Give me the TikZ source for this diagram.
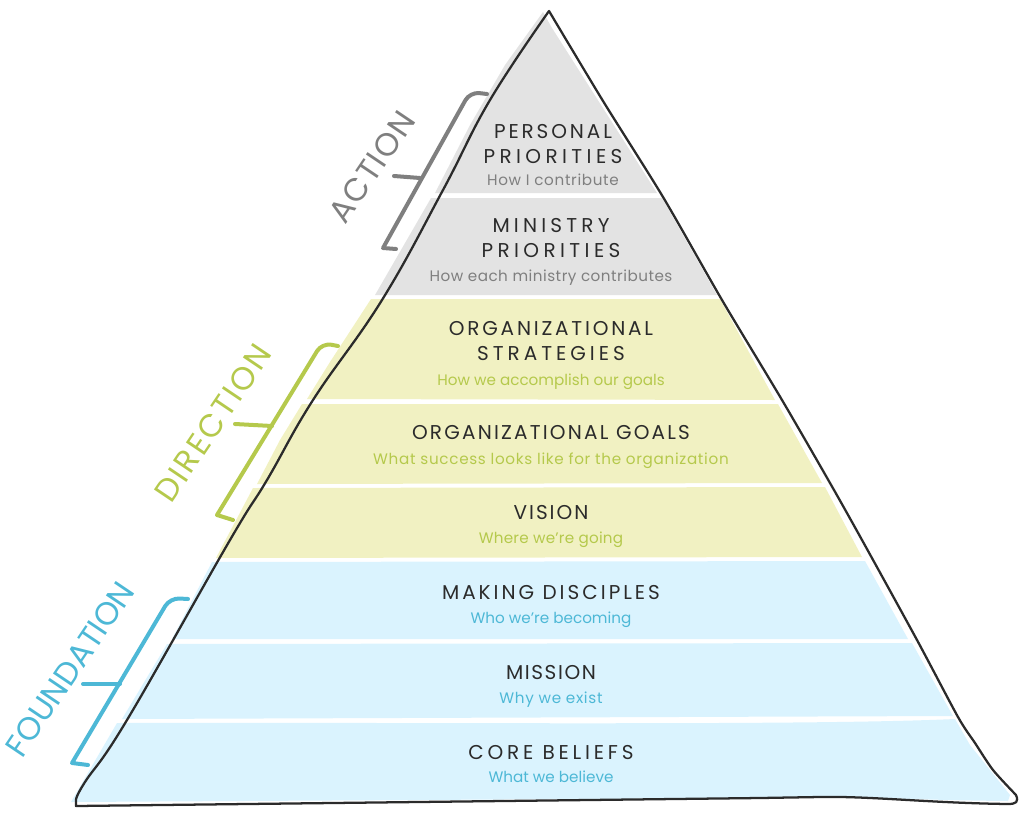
\documentclass[tikz,border=0pt]{standalone}
\usepackage{fontspec}
\setmainfont{Poppins}
\definecolor{grayfill}{HTML}{E3E3E3}
\definecolor{yellowfill}{HTML}{F1F1C2}
\definecolor{bluefill}{HTML}{DAF3FE}
\definecolor{graytext}{HTML}{7F7F7F}
\definecolor{yellowtext}{HTML}{B5C94C}
\definecolor{bluetext}{HTML}{4DB8D6}
\definecolor{inkdark}{HTML}{2B2B2B}
\newcommand{\spc}[2]{{\addfontfeatures{LetterSpace=#1}#2}}
\tikzset{
  ttl/.style={text=inkdark,align=center,inner sep=0pt,font=\fontsize{15}{18.75}\selectfont},
  sub/.style={inner sep=0pt,text height=7pt,text depth=2.5pt,font=\fontsize{11.4}{13}\selectfont},
  side/.style={inner sep=0pt,rotate=56,font=\fontsize{24}{26}\selectfont},
  brk/.style={line width=3pt,line cap=round,line join=round},
  tick/.style={line width=3pt,line cap=round},
  outline/.style={draw=inkdark,line width=1.7pt,line join=round}
}
\begin{document}
\begin{tikzpicture}[x=0.75pt,y=-0.75pt]
\useasboundingbox (0,0) rectangle (1024,814);
% bands
\fill[grayfill] (543,12) -- (552,28) -- (657,193) -- (435,193) -- (470,125) -- (505,65) -- cycle;
\fill[grayfill] (431,198) -- (662,198) -- (717,295) -- (375,295) -- cycle;
\fill[yellowfill] (371,299) -- (720,299) -- (775,400) -- (307,399) -- (330,362) -- cycle;
\fill[yellowfill] (302,404) -- (778,404) -- (822,483) -- (257,484) -- (280,440) -- cycle;
\fill[yellowfill] (253,488) -- (825,487) -- (862,557) -- (216,558) -- cycle;
\fill[bluefill] (212,562) -- (865,561) -- (908,639) -- (172,639) -- cycle;
\fill[bluefill] (167,644) -- (912,643) -- (953,716) -- (122,719) -- cycle;
\fill[bluefill] (117,723) .. controls (400,722) and (800,726) .. (955,719)
  -- (970,745) -- (1010,795) -- (1008,801) .. controls (900,800) and (850,795) .. (760,798) -- (71,802) -- cycle;
% outline
\draw[outline] plot[smooth,tension=.7] coordinates {(76,800) (85,782) (127,720) (230,540) (267,480) (313,400) (382,300) (443,190) (490,100) (549,11)}
  -- plot[smooth,tension=.45] coordinates {(549,11) (603,101) (663,197) (722,300) (782,400) (830,483) (862,540) (917,640) (958,717) (975,743) (993,770) (1016,795)}
  .. controls (1019,802) and (1016,804) .. (1008,804)
  .. controls (930,803) and (870,796) .. (820,797)
  -- (760,798) -- (76,806) -- cycle;
% brackets
\draw[brk,draw=graytext] (487,94) [rounded corners=7pt] -- (470,92) [sharp corners] -- (383,248) -- (396,249);
\draw[tick,draw=graytext] (394,176) -- (420,178);
\draw[brk,draw=yellowtext] (338,346) [rounded corners=7pt] -- (322,343) [sharp corners] -- (217,515) -- (233,520);
\draw[tick,draw=yellowtext] (235,424) -- (272,426);
\draw[brk,draw=bluetext] (188,599) [rounded corners=7pt] -- (170,598) [sharp corners] -- (72,763) -- (88,765);
\draw[tick,draw=bluetext] (83,684) -- (120,684);
% side labels
\node[side,text=graytext] (action) at (372,167) {\spc{5}{ACTION}};
\node[side,text=yellowtext] (direction) at (213,423) {\spc{7}{DIRECTION}};
\node[side,text=bluetext] (foundation) at (70,669) {FOUNDATION};
% texts
\node[ttl] (t1) at (553,144) {\spc{14.5}{PERSONAL}\\\spc{22}{PRIORITIES}};
\node[sub,text=graytext] (s1) at (553,182) {\spc{4.3}{How I contribute}};
\node[ttl] (t2) at (551,238) {\spc{21}{MINISTRY}\\\spc{22}{PRIORITIES}};
\node[sub,text=graytext] (s2) at (551,278) {\spc{3.2}{How each ministry contributes}};
\node[ttl] (t3) at (551,341) {\spc{14}{ORGANIZATIONAL}\\\spc{20}{STRATEGIES}};
\node[sub,text=yellowtext] (s3) at (551,382) {How we accomplish our goals};
\node[ttl] (t4) at (551,433) {\spc{11}{ORGANIZATIONAL GOALS}};
\node[sub,text=yellowtext] (s4) at (551,461) {\spc{4.5}{What success looks like for the organization}};
\node[ttl] (t5) at (551,513) {\spc{10}{VISION}};
\node[sub,text=yellowtext] (s5) at (551,540) {\spc{1.5}{Where we're going}};
\node[ttl] (t6) at (551,593) {\spc{15}{MAKING DISCIPLES}};
\node[sub,text=bluetext] (s6) at (551,620) {Who we're becoming};
\node[ttl] (t7) at (551,672) {\spc{8}{MISSION}};
\node[sub,text=bluetext] (s7) at (551,700) {\spc{4.4}{Why we exist}};
\node[ttl] (t8) at (551,752) {\spc{19}{CORE BELIEFS}};
\node[sub,text=bluetext] (s8) at (551,779) {What we believe};
\end{tikzpicture}
\end{document}
